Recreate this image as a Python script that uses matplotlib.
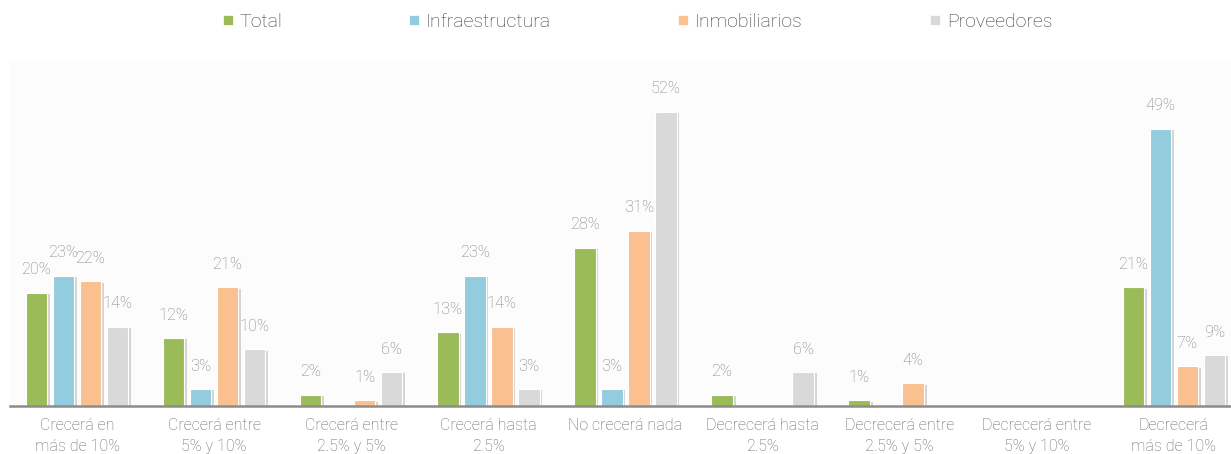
import numpy as np
import matplotlib
matplotlib.use("Agg")
import matplotlib.pyplot as plt
import matplotlib.patheffects as pe
from matplotlib.lines import Line2D
from matplotlib import font_manager as fm

categories = [
    "Crecerá en\nmás de 10%",
    "Crecerá entre\n5% y 10%",
    "Crecerá entre\n2.5% y 5%",
    "Crecerá hasta\n2.5%",
    "No crecerá nada",
    "Decrecerá hasta\n2.5%",
    "Decrecerá entre\n2.5% y 5%",
    "Decrecerá entre\n5% y 10%",
    "Decrecerá\nmás de 10%",
]
series_names = ["Total", "Infraestructura", "Inmobiliarios", "Proveedores"]
total = [20, 12, 2, 13, 28, 2, 1, 0, 21]
infraestructura = [23, 3, 0, 23, 3, 0, 0, 0, 49]
inmobiliarios = [22, 21, 1, 14, 31, 0, 4, 0, 7]
proveedores = [14, 10, 6, 3, 52, 6, 0, 0, 9]
series_values = [total, infraestructura, inmobiliarios, proveedores]
colors = ["#9BBB59", "#93CDDD", "#FAC090", "#D9D9D9"]

# look for a light-weight font
family, weight = "Liberation Sans", "normal"
for cand in ["Roboto", "Lato", "Open Sans", "Inter", "Noto Sans"]:
    ws = [f.weight for f in fm.fontManager.ttflist if f.name == cand]
    if any(w in (300, "light", 200, "extra-light") for w in ws):
        family, weight = cand, "light"
        break
plt.rcParams["font.family"] = [family, "DejaVu Sans"]
plt.rcParams["font.weight"] = weight

W, H = 1231, 454
fig = plt.figure(figsize=(W / 100, H / 100), dpi=100)
fig.patch.set_facecolor("white")

left_px, right_px = 10, 1231
base_px, top_px = 406, 60
ax = fig.add_axes([left_px / W, (H - base_px) / H, (right_px - left_px) / W, (base_px - top_px) / H])
ax.set_facecolor("#fcfcfc")

step_px = 137.1
x = np.arange(len(categories))
ax.set_xlim((left_px - 77) / step_px, (right_px - 77) / step_px)
ax.set_ylim(0, (base_px - top_px) / 5.66)

bar_step = 27 / step_px
bar_w = 21.5 / step_px
shadow = [pe.SimplePatchShadow(offset=(2, -1), shadow_rgbFace="#8a8a8a", alpha=0.35), pe.Normal()]

for i, (vals, col) in enumerate(zip(series_values, colors)):
    xs = x + (i - 1.5) * bar_step
    for xi, v in zip(xs, vals):
        if v <= 0:
            continue
        b = ax.bar(xi, v, width=bar_w, color=col, edgecolor="white", linewidth=0.8, zorder=3)
        for p in b:
            p.set_path_effects(shadow)
        ax.annotate(f"{v}%", (xi, v), xytext=(0, 16.5), textcoords="offset points",
                    ha="center", va="center", fontsize=11.8, color="#828282",
                    fontweight=weight, zorder=4)

for s in ["top", "right", "left"]:
    ax.spines[s].set_visible(False)
ax.spines["bottom"].set_color("#8c8c8c")
ax.spines["bottom"].set_linewidth(1.8)
ax.spines["bottom"].set_zorder(5)
ax.set_yticks([])
ax.set_xticks(x)
ax.set_xticklabels(categories, fontsize=11.5, color="#666666", linespacing=1.45,
                   fontweight=weight)
ax.tick_params(axis="x", length=0, pad=9)

handles = [Line2D([], [], marker="s", linestyle="none", markersize=6.5,
                  markerfacecolor=c, markeredgecolor="white", markeredgewidth=0.5) for c in colors]
leg = fig.legend(handles, series_names, loc="center", bbox_to_anchor=(637 / W, 1 - 22 / H),
                 ncol=4, frameon=False, labelcolor="#3a3a3a",
                 handlelength=0.6, handletextpad=0.3, columnspacing=6.5,
                 prop={"family": [family, "DejaVu Sans"], "weight": weight, "size": 14})

fig.savefig("out.png", dpi=100, facecolor="white")
